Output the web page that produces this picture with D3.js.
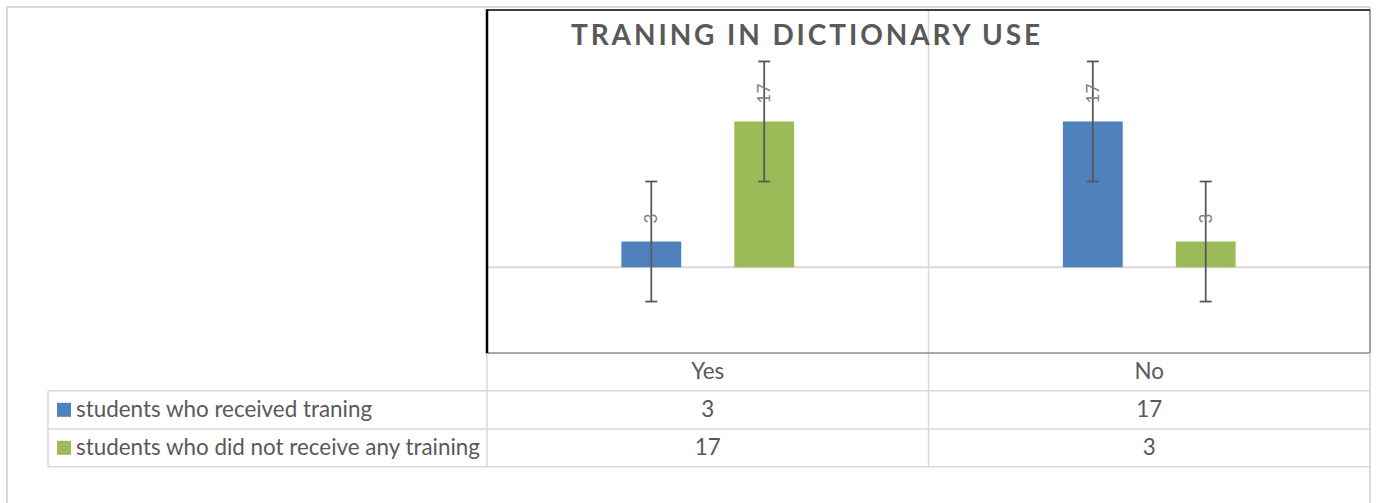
<!DOCTYPE html>
<html>
<head>
<meta charset="utf-8">
<script src="https://cdn.jsdelivr.net/npm/d3@7"></script>
<style>
  body { margin: 0; background: #fff; }
  text { font-family: Lato, "Open Sans", sans-serif; fill: #595959; }
</style>
</head>
<body>
<svg id="chart" width="1377" height="503"></svg>
<script>
// data
var categories = ["Yes", "No"];
var seriesNames = ["students who received traning", "students who did not receive any training"];
var received = [3, 17];
var notReceived = [17, 3];
var errorAmount = 7; // +/- fixed value on every bar
var yDomain = [-10, 30];
var colors = ["#4f81bd", "#9bbb59"];

var values = [received, notReceived];

var svg = d3.select("#chart");

var plotLeft = 487, plotRight = 1370, plotTop = 10, plotBottom = 353;

var x0 = d3.scaleBand().domain(categories).range([plotLeft, plotRight]);
var x1 = d3.scaleBand()
    .domain(d3.range(seriesNames.length))
    .range([0, x0.bandwidth()])
    .paddingInner(0.47)
    .paddingOuter(1.19);
var y = d3.scaleLinear().domain(yDomain).range([plotBottom, plotTop]);

// outer chart frame
svg.append("rect")
    .attr("x", 7).attr("y", 7)
    .attr("width", 1363).attr("height", 520)
    .attr("fill", "none")
    .attr("stroke", "#d9d9d9")
    .attr("stroke-width", 2);

// vertical divider between the categories
svg.append("line")
    .attr("x1", x0("No")).attr("x2", x0("No"))
    .attr("y1", plotTop).attr("y2", 466.7)
    .attr("stroke", "#d9d9d9").attr("stroke-width", 1.5);

// zero line
svg.append("line")
    .attr("x1", plotLeft).attr("x2", plotRight)
    .attr("y1", y(0)).attr("y2", y(0))
    .attr("stroke", "#d9d9d9").attr("stroke-width", 2);

// bars
var groups = svg.selectAll("g.cat")
    .data(categories)
    .enter().append("g")
    .attr("class", "cat")
    .attr("transform", function(d) { return "translate(" + x0(d) + ",0)"; });

groups.each(function(cat, ci) {
    var g = d3.select(this);
    values.forEach(function(vals, si) {
        var v = vals[ci];
        var cx = x1(si) + x1.bandwidth() / 2;
        g.append("rect")
            .attr("x", x1(si))
            .attr("y", y(v))
            .attr("width", x1.bandwidth())
            .attr("height", y(0) - y(v))
            .attr("fill", colors[si]);
        // error bar
        var eb = g.append("g").attr("stroke", "#595959").attr("stroke-width", 1.8);
        eb.append("line")
            .attr("x1", cx).attr("x2", cx)
            .attr("y1", y(v + errorAmount)).attr("y2", y(v - errorAmount));
        [v + errorAmount, v - errorAmount].forEach(function(e) {
            eb.append("line")
                .attr("x1", cx - 6).attr("x2", cx + 6)
                .attr("y1", y(e)).attr("y2", y(e));
        });
        // rotated data label
        g.append("text")
            .attr("transform", "translate(" + (cx + 6) + "," + (y(v) - 18) + ") rotate(-90)")
            .attr("text-anchor", "start")
            .style("font-size", "17px")
            .style("fill", "#808080")
            .text(v);
    });
});

// plot area border
svg.append("line").attr("x1", plotRight).attr("x2", plotRight).attr("y1", plotTop).attr("y2", plotBottom)
    .attr("stroke", "#8c8c8c").attr("stroke-width", 1.5);
svg.append("line").attr("x1", plotLeft).attr("x2", plotRight).attr("y1", plotBottom).attr("y2", plotBottom)
    .attr("stroke", "#8c8c8c").attr("stroke-width", 1.5);
svg.append("line").attr("x1", plotLeft).attr("x2", plotRight).attr("y1", plotTop).attr("y2", plotTop)
    .attr("stroke", "#000").attr("stroke-width", 1.5);
svg.append("line").attr("x1", plotLeft).attr("x2", plotLeft).attr("y1", plotTop - 0.75).attr("y2", plotBottom + 1)
    .attr("stroke", "#000").attr("stroke-width", 2.5);

// title
svg.append("text")
    .attr("x", 807).attr("y", 45)
    .attr("text-anchor", "middle")
    .style("font-size", "28px")
    .style("font-weight", "bold")
    .style("letter-spacing", "2.9px")
    .text("TRANING IN DICTIONARY USE");

// data table
var rowLines = [390.7, 429, 466.7];
var tableLeft = 48;
var tbl = svg.append("g").attr("stroke", "#d9d9d9").attr("stroke-width", 1.5);
rowLines.forEach(function(ry) {
    tbl.append("line").attr("x1", tableLeft).attr("x2", plotRight).attr("y1", ry).attr("y2", ry);
});
tbl.append("line").attr("x1", tableLeft).attr("x2", tableLeft).attr("y1", rowLines[0]).attr("y2", rowLines[2]);
tbl.append("line").attr("x1", plotLeft).attr("x2", plotLeft).attr("y1", plotBottom).attr("y2", rowLines[2]);
tbl.append("line").attr("x1", plotRight).attr("x2", plotRight).attr("y1", plotBottom).attr("y2", rowLines[2]);

// header row with category names
svg.selectAll("text.cat")
    .data(categories)
    .enter().append("text")
    .attr("class", "cat")
    .attr("x", function(d) { return x0(d) + x0.bandwidth() / 2; })
    .attr("y", 379)
    .attr("text-anchor", "middle")
    .style("font-size", "22.4px")
    .text(function(d) { return d; });

var rowMid = [409.8, 447.8];
seriesNames.forEach(function(name, si) {
    svg.append("rect")
        .attr("x", 57).attr("y", rowMid[si] - 7)
        .attr("width", 14).attr("height", 14)
        .attr("fill", colors[si]);
    svg.append("text")
        .attr("x", 76).attr("y", rowMid[si] + 7.5)
        .style("font-size", "22.4px")
        .text(name);
    values[si].forEach(function(v, ci) {
        svg.append("text")
            .attr("x", x0(categories[ci]) + x0.bandwidth() / 2)
            .attr("y", rowMid[si] + 7.5)
            .attr("text-anchor", "middle")
            .style("font-size", "22.4px")
            .text(v);
    });
});
</script>
</body>
</html>
